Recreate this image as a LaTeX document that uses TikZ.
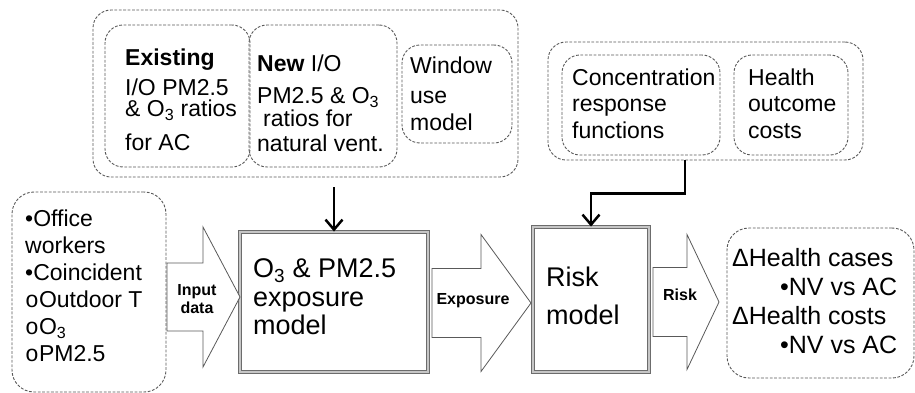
\documentclass[tikz,border=0pt]{standalone}
\usepackage{fontspec}
\setmainfont{Liberation Sans}
\newfontfamily\monofont{Liberation Mono}
\usetikzlibrary{arrows.meta,calc}
\newcommand{\subb}{{\monofont o}}
\newcommand{\blkarrow}[6]{%
  \draw[blk] (#1,#4-#5) -- (#2,#4-#5) -- (#2,#4-#6) -- (#3,#4) -- (#2,#4+#6) -- (#2,#4+#5) -- (#1,#4+#5) -- cycle;}
\tikzset{
  dbox/.style={draw=gray!70!black, dash pattern=on 2.8pt off 1.6pt, line width=0.9pt,
    rounded corners=18pt, inner sep=0pt},
  mbox/.style={draw=gray!85!black, double=gray!45, double distance=1.3pt, line width=0.9pt, inner sep=0pt},
  blk/.style={draw=gray!70!black, line width=0.8pt, fill=white, line join=miter},
  conn/.style={line width=2.5pt, -{Straight Barb[length=10pt,width=17pt]}},
  txt/.style={inner sep=0pt, anchor=base west, font=\fontsize{23}{25}\selectfont},
  bigtxt/.style={inner sep=0pt, anchor=base west},
  lbl/.style={inner sep=0pt, align=center, font=\bfseries\fontsize{16}{18}\selectfont}
}
\begin{document}
\begin{tikzpicture}[x=1pt,y=-1pt]
\useasboundingbox (0,0) rectangle (915,393);
% top left group
\node[dbox, minimum width=425pt, minimum height=167pt] (topL) at (305.5,93.5) {};
\node[dbox, minimum width=145pt, minimum height=142pt] (exist) at (177.5,96) {};
\node[dbox, minimum width=148pt, minimum height=142pt] (newio) at (323,96) {};
\node[dbox, minimum width=110pt, minimum height=98pt] (window) at (457,94) {};
\node[txt] (texist) at (125,65.3) {\vtop{\hbox{\bfseries Existing}\vskip5pt\hbox{I/O PM2.5}\vskip-4pt\hbox{\& O\textsubscript{3} ratios}\vskip9pt\hbox{for AC}}};
\node[txt] (tnew) at (257,71.3) {\vtop{\hbox{\textbf{New} I/O}\vskip7pt\hbox{PM2.5 \& O\textsubscript{3}}\vskip-2pt\hbox{\kern6pt ratios for}\hbox{natural vent.}}};
\node[txt, font=\fontsize{23}{27}\selectfont] (twin) at (410,73.3) {\vtop{\hbox{Window}\vskip3pt\hbox{use}\hbox{model}}};
% top right group
\node[dbox, minimum width=315pt, minimum height=118pt] (topR) at (705.5,101) {};
\node[dbox, minimum width=158pt, minimum height=100pt] (crf) at (641,105) {};
\node[dbox, minimum width=114pt, minimum height=100pt] (hoc) at (791,105) {};
\node[txt, font=\fontsize{23}{26.5}\selectfont] (tcrf) at (572,85.3) {\vtop{\hbox{Concentration}\hbox{response}\hbox{functions}}};
\node[txt, font=\fontsize{23}{26.5}\selectfont] (thoc) at (748,85.3) {\vtop{\hbox{Health}\hbox{outcome}\hbox{costs}}};
% bottom row
\node[dbox, rounded corners=22pt, minimum width=154pt, minimum height=200pt] (inp) at (89,292) {};
\node[txt, font=\fontsize{23}{27}\selectfont] (tinp) at (25,226.3) {\vtop{\hbox{•Office}\hbox{workers}\hbox{•Coincident}\hbox{\subb Outdoor T}\hbox{\subb O\textsubscript{3}}\hbox{\subb PM2.5}}};
\node[mbox, minimum width=188pt, minimum height=140pt] (expo) at (334,302) {};
\node[bigtxt, font=\fontsize{27}{28.5}\selectfont] (texpo) at (253,277.7) {\vtop{\hbox{O\textsubscript{3} \& PM2.5}\hbox{exposure}\hbox{model}}};
\node[mbox, minimum width=116pt, minimum height=145pt] (risk) at (591,299.5) {};
\node[bigtxt, font=\fontsize{27}{38}\selectfont] (trisk) at (546,286.7) {\vtop{\hbox{Risk}\hbox{model}}};
\node[dbox, rounded corners=22pt, minimum width=187pt, minimum height=150pt] (out) at (820.5,303) {};
\node[bigtxt, font=\fontsize{25}{29}\selectfont] (tout) at (732,266) {\vtop{\hbox{ΔHealth cases}\hbox to 165pt{\hfil •NV vs AC}\hbox{ΔHealth costs}\hbox to 165pt{\hfil •NV vs AC}}};
% block arrows
\blkarrow{167}{203}{240}{297}{34}{70}
\node[lbl] (linp) at (197,299) {Input\\data};
\blkarrow{432}{481}{531}{303}{34.5}{68.5}
\node[lbl] (lexpo) at (473,301) {Exposure};
\blkarrow{653}{687}{719}{302}{34.5}{67.5}
\node[lbl] (lrisk) at (680,295) {Risk};
% connectors
\draw[conn] ($(topL.south -| expo.north)+(0,10)$) -- (expo.north);
\draw[conn] ([xshift=-20.5pt]topR.south) -- ++(0,33) -| (risk.north);
\end{tikzpicture}
\end{document}
